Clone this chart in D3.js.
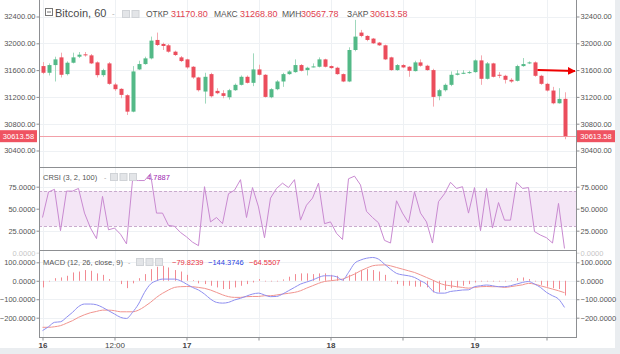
<!DOCTYPE html>
<html>
<head>
<meta charset="utf-8">
<script src="https://cdn.jsdelivr.net/npm/d3@7/dist/d3.min.js"></script>
<style>
  body { margin: 0; background: #eaedf0; }
  svg { display: block; font-family: "Liberation Sans", Arial, sans-serif; }
</style>
</head>
<body>
<svg id="chart" width="620" height="354"></svg>
<script>
// hourly candles, 16th 00:00 .. 19th 15:00
const startTime = new Date(Date.UTC(2021, 0, 16, 0));
const opens = [31660,31560,31675,31790,31540,31710,31800,31835,31820,31715,
  31525,31700,31385,31320,31225,30980,31610,31690,31775,32050,
  31990,31970,31875,31790,31760,31650,31490,31280,31540,31290,
  31255,31195,31300,31380,31500,31410,31610,31530,31195,31315,
  31430,31540,31570,31675,31600,31650,31650,31760,31660,31635,
  31540,31430,31900,32160,32110,32070,32010,31970,31790,31600,
  31675,31650,31585,31715,31665,31600,31210,31300,31380,31530,
  31545,31555,31570,31745,31470,31700,31530,31515,31455,31440,
  31660,31700,31715,31515,31395,31295,31105,31170.80];
const highs = [31720,31700,31800,31860,31730,31860,31870,31870,31840,31730,
  31620,31720,31410,31330,31240,31660,31740,31800,32100,32160,
  32010,31990,31890,31810,31770,31660,31500,31560,31560,31330,
  31300,31320,31400,31520,31520,31850,31680,31540,31330,31450,
  31560,31600,31760,31690,31650,31700,31790,31770,31670,31650,
  31550,31940,32350,32200,32120,32080,32020,31980,31800,31690,
  31690,31660,31740,31760,31680,31620,31320,31400,31580,31600,
  31600,31590,31760,31820,31720,31710,31570,31530,31480,31680,
  31780,31730,31730,31530,31410,31350,31330,31268.80];
const lows = [31540,31520,31430,31490,31520,31700,31780,31800,31690,31490,
  31500,31380,31290,31180,30930,30970,31600,31680,31760,31960,
  31900,31860,31810,31720,31620,31470,31280,31100,31190,31240,
  31180,31160,31290,31370,31400,31360,31520,31190,31180,31300,
  31350,31530,31560,31580,31520,31640,31640,31640,31620,31530,
  31420,31420,31880,32090,32030,31990,31960,31750,31590,31590,
  31630,31500,31580,31650,31590,31055,31150,31280,31360,31520,
  31540,31545,31560,31380,31460,31490,31480,31400,31410,31430,
  31650,31690,31500,31380,31280,31090,31100,30567.78];
const closes = [31560,31675,31760,31530,31710,31790,31830,31820,31700,31525,
  31600,31395,31315,31230,30980,31580,31690,31775,32040,31975,
  31960,31875,31825,31735,31640,31490,31300,31500,31210,31255,
  31215,31300,31380,31500,31410,31610,31530,31200,31315,31430,
  31540,31580,31675,31590,31635,31655,31760,31650,31630,31540,
  31430,31900,32100,32110,32050,32000,31970,31760,31600,31675,
  31640,31590,31715,31665,31600,31200,31300,31380,31530,31550,
  31560,31570,31745,31470,31700,31500,31525,31455,31430,31660,
  31690,31715,31515,31395,31295,31105,31170,30613.58];

const crsi = [40,69,72,25,70,70,73,45,28,16,
  64,26,28,21,10,82,82,82,90,45,
  45,31,30,23,18,12,8,75,35,40,
  33,67,71,83,40,74,52,17,62,73,
  79,74,83,37,54,62,79,33,35,22,
  15,84,87,77,47,40,34,14,11,59,
  45,34,69,45,35,11,58,67,80,73,
  75,45,74,25,73,28,57,37,37,80,
  73,74,24,20,17,11,56,4.7887];

const macd = [-270,-249,-225,-222,-198,-171,-140,-126,-126,-130,
  -144,-162,-180,-198,-204,-171,-126,-63,-18,0,
  9,9,9,0,-18,-36,-50,-72,-99,-117,
  -121,-117,-104,-95,-83,-72,-67,-77,-86,-85,
  -72,-54,-36,-18,-7,4,18,27,27,22,
  4,45,94,112,122,126,117,90,63,40,
  32,27,18,0,-18,-54,-67,-67,-58,-54,
  -50,-49,-32,-27,-23,-27,-32,-32,-27,-18,
  -9,-4,-18,-36,-63,-81,-99,-144.3746];
const signal = [-252,-252,-249,-243,-230,-216,-198,-184,-173,-166,
  -159,-159,-162,-168,-168,-168,-159,-140,-117,-90,
  -68,-50,-36,-32,-31,-32,-36,-41,-50,-63,
  -76,-86,-90,-90,-86,-85,-85,-81,-81,-77,
  -72,-68,-63,-54,-40,-27,-14,-4,0,4,
  9,22,36,54,68,81,85,86,81,72,
  63,54,45,32,18,4,-11,-22,-27,-32,
  -36,-40,-36,-32,-31,-32,-32,-36,-32,-27,
  -22,-14,-18,-27,-36,-45,-54,-64.5507];
const hist = [-36,-4,14,18,27,45,50,58,54,40,
  32,9,0,-18,-40,-14,14,36,63,76,
  81,72,58,50,32,4,-14,-18,-27,-36,
  -45,-45,-36,-27,-18,-9,9,-4,-4,-4,
  7,22,36,40,40,36,40,40,32,27,
  9,32,45,58,63,58,50,32,-4,-18,
  -27,-27,-32,-32,-36,-63,-63,-50,-40,-36,
  -27,-18,-9,-4,-4,-4,-4,-4,2,14,
  18,9,-4,-22,-32,-40,-45,-79.8239];

const priceTicks = [32400, 32000, 31600, 31200, 30800, 30400];
const crsiTicks = [75, 50, 25, 0];
const macdTicks = [100, 0, -100, -200];
const crsiBand = [30, 70];
const header = [
  { label: 'ОТКР', value: '31170.80' },
  { label: 'МАКС', value: '31268.80' },
  { label: 'МИН', value: '30567.78' },
  { label: 'ЗАКР', value: '30613.58' }
];
const lastPrice = 30613.58;

const times = opens.map((_, i) => d3.utcHour.offset(startTime, i));
const bars = opens.map((o, i) => ({ t: times[i], o, h: highs[i], l: lows[i], c: closes[i] }));

const svg = d3.select('#chart');
const left = 39, right = 576;
const panes = { main: [0, 167], crsi: [167, 250], macd: [250, 337] };

const x = d3.scaleTime()
  .domain([d3.utcMinute.offset(startTime, -35), d3.utcMinute.offset(startTime, 88 * 60 + 55)])
  .range([left, right]);
const yP = d3.scaleLinear().domain([30400, 32400]).range([150.5, 16.5]);
const yC = d3.scaleLinear().domain([0, 100]).range([252.7, 164.7]);
const yM = d3.scaleLinear().domain([-200, 100]).range([317.7, 262.3]);

const green = '#53b987', red = '#eb4d5c';
const gridCol = '#eef1f4', axisCol = '#8d8f92', textCol = '#555';

svg.append('rect').attr('width', 615).attr('height', 348).attr('fill', '#fff');

// clip paths per pane
Object.entries(panes).forEach(([k, [y0, y1]]) => {
  svg.append('clipPath').attr('id', 'clip-' + k)
    .append('rect').attr('x', left).attr('y', y0).attr('width', right - left).attr('height', y1 - y0);
});

const timeTicks = x.ticks(d3.utcHour.every(12));

// vertical grid
svg.append('g').selectAll('line').data(timeTicks).join('line')
  .attr('x1', d => Math.round(x(d)) + 0.5).attr('x2', d => Math.round(x(d)) + 0.5)
  .attr('y1', 0).attr('y2', panes.macd[1])
  .attr('stroke', gridCol);

// horizontal grids
const hgrid = (ticks, scale, clip) => svg.append('g').attr('clip-path', `url(#clip-${clip})`)
  .selectAll('line').data(ticks).join('line')
  .attr('x1', left).attr('x2', right)
  .attr('y1', d => Math.round(scale(d)) + 0.5).attr('y2', d => Math.round(scale(d)) + 0.5)
  .attr('stroke', gridCol);
hgrid(priceTicks, yP, 'main');
hgrid(crsiTicks, yC, 'crsi');
hgrid(macdTicks, yM, 'macd');

// ---- main pane: candles
const gMain = svg.append('g').attr('clip-path', 'url(#clip-main)');
gMain.append('line')
  .attr('x1', left).attr('x2', right)
  .attr('y1', Math.round(yP(lastPrice)) + 0.5).attr('y2', Math.round(yP(lastPrice)) + 0.5)
  .attr('stroke', '#f2a0a8');

const candle = gMain.selectAll('g.c').data(bars).join('g').attr('class', 'c');
candle.append('line')
  .attr('x1', d => Math.round(x(d.t)) + 0.5).attr('x2', d => Math.round(x(d.t)) + 0.5)
  .attr('y1', d => yP(d.h)).attr('y2', d => yP(d.l))
  .attr('stroke', d => d.c >= d.o ? '#9fd8bc' : '#f4a9b0');
candle.append('rect')
  .attr('x', d => Math.round(x(d.t)) - 1.5)
  .attr('width', 4)
  .attr('y', d => yP(Math.max(d.o, d.c)))
  .attr('height', d => Math.max(1, Math.abs(yP(d.o) - yP(d.c))))
  .attr('fill', d => d.c >= d.o ? green : red);

// annotation arrow
svg.append('defs').append('marker').attr('id', 'ah')
  .attr('viewBox', '0 0 10 10').attr('refX', 9).attr('refY', 5)
  .attr('markerWidth', 4).attr('markerHeight', 4).attr('orient', 'auto')
  .append('path').attr('d', 'M0,0L10,5L0,10z').attr('fill', '#e00');
svg.append('line')
  .attr('x1', x(times[82]) + 3).attr('y1', yP(31600))
  .attr('x2', right - 1).attr('y2', yP(31585))
  .attr('stroke', '#e00').attr('stroke-width', 2)
  .attr('marker-end', 'url(#ah)');

// ---- CRSI pane
const gC = svg.append('g').attr('clip-path', 'url(#clip-crsi)');
gC.append('rect')
  .attr('x', left).attr('width', right - left)
  .attr('y', yC(crsiBand[1])).attr('height', yC(crsiBand[0]) - yC(crsiBand[1]))
  .attr('fill', '#f4e6f6');
gC.selectAll('line.band').data(crsiBand).join('line').attr('class', 'band')
  .attr('x1', left).attr('x2', right)
  .attr('y1', d => Math.round(yC(d)) + 0.5).attr('y2', d => Math.round(yC(d)) + 0.5)
  .attr('stroke', '#c9abce').attr('stroke-dasharray', '3,2');
gC.append('path').datum(crsi)
  .attr('d', d3.line().x((d, i) => x(times[i])).y(d => yC(d)))
  .attr('fill', 'none').attr('stroke', '#c98ad1').attr('stroke-width', 1);

// ---- MACD pane
const gM = svg.append('g').attr('clip-path', 'url(#clip-macd)');
gM.selectAll('line.h').data(hist).join('line').attr('class', 'h')
  .attr('x1', (d, i) => Math.round(x(times[i])) + 0.5).attr('x2', (d, i) => Math.round(x(times[i])) + 0.5)
  .attr('y1', yM(0)).attr('y2', d => yM(d))
  .attr('stroke', '#f28a92').attr('stroke-width', 1);
gM.append('path').datum(signal)
  .attr('d', d3.line().curve(d3.curveMonotoneX).x((d, i) => x(times[i])).y(d => yM(d)))
  .attr('fill', 'none').attr('stroke', '#f1948f').attr('stroke-width', 1);
gM.append('path').datum(macd)
  .attr('d', d3.line().curve(d3.curveMonotoneX).x((d, i) => x(times[i])).y(d => yM(d)))
  .attr('fill', 'none').attr('stroke', '#8f8ff0').attr('stroke-width', 1);

// ---- frame / axes
svg.append('g').selectAll('line').data([left, right]).join('line')
  .attr('x1', d => d + 0.5).attr('x2', d => d + 0.5)
  .attr('y1', 0).attr('y2', panes.macd[1])
  .attr('stroke', axisCol);
svg.append('g').selectAll('line').data([panes.main[1], panes.crsi[1], panes.macd[1]]).join('line')
  .attr('x1', left).attr('x2', right + 1)
  .attr('y1', d => d + 0.5).attr('y2', d => d + 0.5)
  .attr('stroke', axisCol);

const yAxes = (ticks, scale, fmt, pane) => {
  const [y0, y1] = panes[pane];
  const vis = ticks.filter(t => scale(t) > y0 + 3 && scale(t) < y1 + 4);
  const gl = svg.append('g').attr('transform', `translate(${left + 0.5},0)`)
    .call(d3.axisLeft(scale).tickValues(vis).tickSize(3).tickFormat(fmt));
  const gr = svg.append('g').attr('transform', `translate(${right + 0.5},0)`)
    .call(d3.axisRight(scale).tickValues(vis).tickSize(3).tickFormat(fmt));
  [gl, gr].forEach(g => {
    g.select('.domain').remove();
    g.selectAll('line').attr('stroke', axisCol);
    g.selectAll('text').attr('fill', textCol).style('font-size', '7.5px');
  });
  gl.selectAll('text').attr('x', -4);
  gr.selectAll('text').attr('x', 4);
  return [gl, gr];
};
yAxes(priceTicks, yP, d3.format('.2f'), 'main');
const [cl, cr] = yAxes(crsiTicks, yC, d3.format('.4f'), 'crsi');
yAxes(macdTicks, yM, d3.format('.4f'), 'macd');
// 0.0000 label of CRSI is cut by pane edge
[cl, cr].forEach(g => g.selectAll('.tick').filter(d => d === 0).attr('opacity', 0.35));

// price tags
[[0, left - 2], [right + 1, 615]].forEach(([a, b]) => {
  svg.append('rect').attr('x', a).attr('y', yP(lastPrice) - 6).attr('width', b - a).attr('height', 12)
    .attr('fill', '#ef5361');
  svg.append('text').attr('x', (a + b) / 2).attr('y', yP(lastPrice) + 3)
    .attr('text-anchor', 'middle').attr('fill', '#fff').style('font-size', '7.5px')
    .text(lastPrice.toFixed(2));
});

// time axis
const xa = svg.append('g').attr('transform', `translate(0,${panes.macd[1] + 0.5})`)
  .call(d3.axisBottom(x).tickValues(timeTicks).tickSize(3)
    .tickFormat(d => d.getUTCHours() === 0 ? d3.utcFormat('%-d')(d)
      : (d.getUTCDate() === 16 ? d3.utcFormat('%H:%M')(d) : '')));
xa.select('.domain').remove();
xa.selectAll('line').attr('stroke', axisCol);
xa.selectAll('text').attr('fill', '#444').attr('y', 5).style('font-size', '8px')
  .style('font-weight', d => d.getUTCHours() === 0 ? 'bold' : 'normal');

// ---- legends
const icons = (g, x0, n) => d3.range(n).forEach(k => g.append('rect')
  .attr('x', x0 + k * 9.5 + 0.5).attr('y', -6.5).attr('width', 7).attr('height', 7)
  .attr('fill', '#e3e5e8').attr('stroke', '#d0d3d7'));

const hd = svg.append('g').attr('transform', 'translate(0,17)');
hd.append('rect').attr('x', 45.5).attr('y', -8.5).attr('width', 7).attr('height', 7)
  .attr('fill', 'none').attr('stroke', '#777');
hd.append('line').attr('x1', 47).attr('x2', 51).attr('y1', -5).attr('y2', -5).attr('stroke', '#777');
hd.append('text').attr('x', 55).attr('y', 0).attr('fill', '#4a4a4a').style('font-size', '11px').text('Bitcoin, 60');
hd.append('text').attr('x', 112).attr('y', -1).attr('fill', '#aaa').style('font-size', '8px').text('-');
icons(hd, 122, 2);
const hLabelX = [146, 214, 282, 347];
const hValueX = [171, 240, 301, 370];
header.forEach((h, i) => {
  hd.append('text').attr('x', hLabelX[i]).attr('fill', '#555').style('font-size', '8.5px').text(h.label);
  hd.append('text').attr('x', hValueX[i]).attr('fill', '#e0414f').style('font-size', '9px').text(h.value);
});

const lc = svg.append('g').attr('transform', 'translate(43,180)');
lc.append('text').attr('fill', '#555').style('font-size', '7.5px').text('CRSI (3, 2, 100)');
lc.append('text').attr('x', 61).attr('fill', '#aaa').style('font-size', '7px').text('-');
icons(lc, 67, 3);
lc.append('text').attr('x', 104).attr('fill', '#9c27b0').style('font-size', '7.5px').text(d3.format('.4f')(crsi[crsi.length - 1]));

const lm = svg.append('g').attr('transform', 'translate(43,265)');
lm.append('text').attr('fill', '#555').style('font-size', '7.5px').text('MACD (12, 26, close, 9)');
lm.append('text').attr('x', 85).attr('fill', '#aaa').style('font-size', '7px').text('-');
icons(lm, 93, 3);
const f4 = d3.format('.4f');
[[129, hist, '#e8333f'], [165, macd, '#2b3fe0'], [206, signal, '#e8333f']].forEach(([dx, arr, col]) =>
  lm.append('text').attr('x', dx).attr('fill', col).style('font-size', '7.5px').text(f4(arr[arr.length - 1])));
</script>
</body>
</html>
